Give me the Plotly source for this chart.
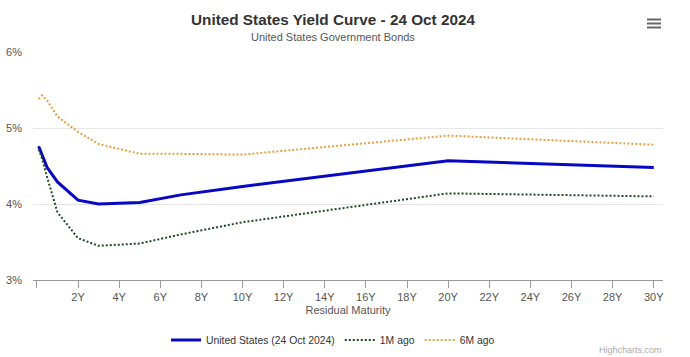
import plotly.graph_objects as go

# Maturities in years (1M, 3M, 6M, 1Y, 2Y, 3Y, 5Y, 7Y, 10Y, 20Y, 30Y)
maturities = [1/12, 0.25, 0.5, 1, 2, 3, 5, 7, 10, 20, 30]
maturity_labels = ["1M", "3M", "6M", "1Y", "2Y", "3Y", "5Y", "7Y", "10Y", "20Y", "30Y"]

yield_current = [4.76, 4.65, 4.48, 4.29, 4.05, 4.00, 4.02, 4.12, 4.23, 4.57, 4.48]
yield_1m_ago = [4.72, 4.60, 4.35, 3.89, 3.55, 3.45, 3.48, 3.60, 3.76, 4.14, 4.10]
yield_6m_ago = [5.38, 5.43, 5.36, 5.15, 4.95, 4.79, 4.66, 4.66, 4.65, 4.90, 4.78]

x_tick_vals = list(range(0, 31, 2))
x_tick_text = [""] + [f"{v}Y" for v in range(2, 31, 2)]
y_tick_vals = [3, 4, 5, 6]
y_tick_text = ["3%", "4%", "5%", "6%"]

series_names = ["United States (24 Oct 2024)", "1M ago", "6M ago"]

FONT = "Liberation Sans, Arial, sans-serif"

fig = go.Figure()
fig.add_trace(go.Scatter(
    x=maturities, y=yield_current, name=series_names[0], mode="lines",
    line=dict(color="#0808c4", width=3), text=maturity_labels,
))
fig.add_trace(go.Scatter(
    x=maturities, y=yield_1m_ago, name=series_names[1], mode="lines",
    line=dict(color="#1f4a1f", width=2, dash="2px,2px"), text=maturity_labels,
))
fig.add_trace(go.Scatter(
    x=maturities, y=yield_6m_ago, name=series_names[2], mode="lines",
    line=dict(color="#e8a040", width=2, dash="2px,2px"), text=maturity_labels,
))

W, H = 690, 357
# Plot area in screen pixels
SL, SR, ST, SB = 33, 663, 52, 280
L, R, T, B = SL, W - SR, ST, H - SB

def px_x(p):
    return (p - SL) / (SR - SL)

def px_y(p):
    return (SB - p) / (SB - ST)

fig.update_layout(
    width=W, height=H,
    margin=dict(l=L, r=R, t=T, b=B, pad=0, autoexpand=False),
    paper_bgcolor="white", plot_bgcolor="white",
    font=dict(family=FONT, color="#333333"),
    showlegend=True,
    legend=dict(
        orientation="h", x=px_x(333), xanchor="center", y=px_y(340), yanchor="middle",
        font=dict(size=10.4, color="#333333"), itemwidth=30, tracegroupgap=0,
        bgcolor="rgba(0,0,0,0)",
    ),
    xaxis=dict(
        range=[-0.19, 30.45], tickmode="array", tickvals=x_tick_vals, ticktext=x_tick_text,
        showgrid=False, zeroline=False, showline=True, linecolor="#999999", linewidth=1,
        ticks="outside", ticklen=7, tickcolor="#999999", tickwidth=1,
        tickfont=dict(size=11, color="#555555", family=FONT), automargin=False,
        title=dict(text="Residual Maturity", font=dict(size=11, color="#555555", family=FONT), standoff=4),
        fixedrange=True,
    ),
    yaxis=dict(
        range=[3, 6], tickmode="array", tickvals=y_tick_vals, ticktext=y_tick_text,
        showgrid=True, gridcolor="#e6e6e6", gridwidth=1, zeroline=False, showline=False,
        ticks="", ticklabelstandoff=10, automargin=False,
        tickfont=dict(size=11, color="#555555", family=FONT),
        fixedrange=True,
    ),
    annotations=[
        dict(text="<b>United States Yield Curve - 24 Oct 2024</b>", xref="paper", yref="paper",
             x=px_x(332.5), y=px_y(19), xanchor="center", yanchor="middle", showarrow=False,
             font=dict(size=15.3, color="#333333", family=FONT)),
        dict(text="United States Government Bonds", xref="paper", yref="paper",
             x=px_x(332.5), y=px_y(37), xanchor="center", yanchor="middle", showarrow=False,
             font=dict(size=11, color="#555555", family=FONT)),
        dict(text="Highcharts.com", xref="paper", yref="paper",
             x=px_x(664), y=px_y(350), xanchor="right", yanchor="middle", showarrow=False,
             font=dict(size=9, color="#aaaaaa", family=FONT)),
    ],
    shapes=[
        dict(type="line", xref="paper", yref="paper", x0=px_x(647), x1=px_x(661),
             y0=px_y(yy), y1=px_y(yy), line=dict(color="#666666", width=2))
        for yy in (19.5, 23.5, 27.5)
    ],
)

fig.write_html(
    "out.html",
    config={"displayModeBar": False},
    post_script="document.body.style.margin='0';document.body.style.padding='0';",
)
